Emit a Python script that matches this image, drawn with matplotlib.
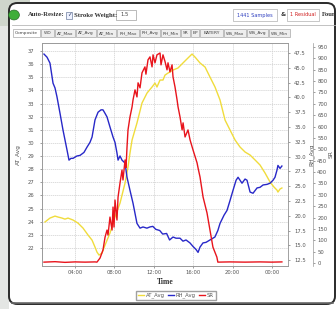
import numpy as np
import matplotlib.pyplot as plt
from matplotlib.patches import FancyBboxPatch, Rectangle, Circle

# Figure size in pixels (screenshot of the logger viewer)
W, H = 336, 309

# --- data (hours since midnight, >24 = next day) ---
at_hours = [0.95, 1.46, 1.97, 2.27, 2.68, 2.98, 3.29, 3.8, 4.3, 4.81, 5.32, 5.73,
            6.03, 6.23, 6.44, 6.74, 7.05, 7.55, 8.06, 8.57, 9.08, 9.38, 9.58, 9.79,
            10.29, 10.8, 11.31, 11.82, 12.12, 12.32, 12.63, 12.93, 13.14, 13.44,
            13.95, 14.46, 14.96, 15.47, 15.88, 16.18, 16.69, 17.2, 17.7, 18.21,
            18.72, 19.23, 19.74, 20.25, 20.75, 21.26, 21.77, 22.28, 22.78, 23.29,
            23.8, 24.2, 24.5, 24.6, 24.81, 25.0]
at_avg = [23.98, 24.28, 24.43, 24.36, 24.28, 24.2, 24.28, 24.13, 23.9, 23.52, 22.99, 22.6,
          22.07, 21.69, 21.46, 21.62, 22.22, 23.14, 24.36, 25.42, 26.95, 28.17, 29.23, 30.22,
          31.52, 33.04, 33.8, 34.26, 34.56, 34.26, 34.79, 34.79, 35.17, 35.32,
          35.55, 35.71, 36.09, 36.47, 36.77, 36.54, 36.09, 35.78, 35.02, 34.26,
          33.27, 31.74, 30.98, 30.22, 29.69, 29.31, 29.08, 28.7, 28.32, 27.71,
          27.02, 26.64, 26.41, 26.26, 26.49, 26.57]

rh_hours = [0.85, 1.16, 1.46, 1.77, 1.97, 2.17, 2.48, 2.78, 3.19, 3.39, 3.59, 3.8,
            4.2, 4.51, 4.91, 5.22, 5.52, 5.73, 6.03, 6.34, 6.64, 6.84, 7.05, 7.25,
            7.55, 7.86, 8.06, 8.26, 8.37, 8.57, 8.77, 9.08, 9.28, 9.58, 9.89, 10.09,
            10.29, 10.6, 10.9, 11.3, 11.6, 11.9, 12.2, 12.6, 12.9, 13.3, 13.6, 13.95,
            14.25, 14.66, 14.96, 15.27, 15.67, 15.98, 16.28, 16.49, 16.69, 16.99, 17.3,
            17.7, 18.2, 18.5, 18.72, 19.13, 19.43, 19.74, 20.04, 20.35, 20.55, 20.75,
            20.95, 21.26, 21.46, 21.77, 22.07, 22.48, 22.78, 23.09, 23.49, 23.8, 24.1,
            24.3, 24.5, 24.6, 24.81, 25.0]
rh_avg = [47.33, 46.8, 45.8, 42.4, 41.6, 40.1, 37.3, 34.5, 31.1, 29.4, 29.7, 29.7,
          30.1, 30.2, 30.7, 31.6, 32.4, 33.3, 36.2, 37.5, 37.9, 37.9, 37.3, 36.7,
          35.0, 33.3, 32.4, 30.6, 29.4, 30.1, 29.4, 28.9, 26.5, 24.3, 22.1, 20.4,
          18.7, 17.9, 18.1, 17.9, 18.1, 18.2, 17.7, 17.5, 16.9, 17.0, 15.9, 16.4,
          16.2, 16.2, 15.7, 15.9, 15.4, 14.8, 14.3, 13.8, 14.7, 15.4, 15.5,
          15.9, 16.4, 17.5, 18.7, 20.1, 20.9, 22.6, 24.3, 26.0, 26.5, 26.0,
          25.5, 26.2, 26.0, 24.0, 23.8, 24.7, 24.8, 25.2, 25.3, 25.5, 26.0,
          26.5, 27.7, 28.5, 28.0, 28.4]

sr_hours = [0.85, 1.97, 2.98, 4.0, 5.02, 6.03, 6.23, 6.54, 6.84, 7.05, 7.25, 7.35,
            7.55, 7.76, 7.86, 7.96, 8.06, 8.26, 8.37, 8.57, 8.77, 8.87, 9.08, 9.18,
            9.28, 9.38, 9.58, 9.79, 9.89, 10.09, 10.29, 10.4, 10.6, 10.8, 11.1, 11.2,
            11.41, 11.61, 11.82, 11.92, 12.12, 12.32, 12.63, 12.73, 12.93, 13.14,
            13.34, 13.44, 13.64, 13.85, 13.95, 14.15, 14.36, 14.46, 14.66, 14.87,
            14.97, 15.17, 15.47, 15.68, 15.98, 16.39, 16.49, 16.69, 17.0, 17.4, 17.7,
            18.0, 18.4, 18.5, 19.7, 21.26, 22.78, 24.0, 25.0]
sr = [4, 6, 3, 5, 4, 5, 4, 22, 57, 114, 145, 123,
      202, 145, 246, 158, 277, 189, 290, 352, 409, 365, 453, 420,
      510, 585, 642, 686, 717, 761, 730, 792, 770, 836, 862, 830,
      893, 906, 862, 915, 880, 915, 923, 871, 915, 885,
      849, 880, 840, 871, 818, 774, 717, 686, 642, 585,
      616, 554, 585, 541, 497, 440, 418, 378, 290, 220, 145,
      70, 26, 4, 5, 4, 5, 4, 5]

time_ticks = [4, 8, 12, 16, 20, 24]
time_labels = ['04:00', '08:00', '12:00', '16:00', '20:00', '00:00']
at_ticks = list(range(22, 38))
rh_ticks = [12.5 + 2.5 * i for i in range(15)]
sr_ticks = list(range(0, 1000, 50))
tabs = ['Composite', 'WD', 'AT_Max', 'AT_Avg', 'AT_Min', 'RH_Max', 'RH_Avg',
        'RH_Min', 'SR', 'BP', 'BATERY', 'WS_Max', 'WS_Avg', 'WS_Min']
tab_edges = [13, 41, 55, 76, 97, 117, 140, 161, 181, 191, 200, 224, 247, 269, 291]


def fx(x):
    return x / W


def fy(y):
    return 1 - y / H


fig = plt.figure(figsize=(W / 100, H / 100), dpi=100)
fig.patch.set_facecolor('white')
BG = -10  # chrome goes below the axes

# window chrome behind the panel
fig.add_artist(Rectangle((0, 0), fx(9), 1, transform=fig.transFigure,
                         facecolor='#e4e6e4', edgecolor='none', zorder=BG))
fig.add_artist(Rectangle((0, fy(26)), fx(30), fy(0) - fy(26), transform=fig.transFigure,
                         facecolor='#cfd6cc', edgecolor='none', zorder=BG))
fig.add_artist(FancyBboxPatch((fx(9), fy(304)), fx(335) - fx(9), fy(3) - fy(304),
                              boxstyle='round,pad=0,rounding_size=0.025',
                              transform=fig.transFigure, facecolor='white',
                              edgecolor='#2a2a2a', linewidth=1.4, zorder=BG))
fig.add_artist(plt.Line2D([fx(12), fx(333)], [fy(302.5), fy(302.5)],
                          transform=fig.transFigure, color='#6a6a6a', lw=1.2, zorder=BG))

# toolbar
fig.add_artist(Circle((fx(14), fy(15)), 0.016, transform=fig.transFigure,
                      facecolor='#3fae3a', edgecolor='#2a6a2a', lw=0.5))
serif = ['Liberation Serif', 'DejaVu Serif']
fig.text(fx(28), fy(15), 'Auto-Resize:', fontsize=4.8, weight='bold', family=serif,
         va='center', color='#333333')
fig.add_artist(Rectangle((fx(66), fy(18.5)), fx(6), fy(11.5) - fy(18.5),
                         transform=fig.transFigure, facecolor='#eef2ff',
                         edgecolor='#7080a0', lw=0.5))
fig.text(fx(69), fy(15), '✓', fontsize=4, ha='center', va='center', color='#203060')
fig.text(fx(74), fy(15), 'Stroke Weight:', fontsize=4.8, weight='bold', family=serif,
         va='center', color='#333333')
fig.add_artist(Rectangle((fx(116), fy(20)), fx(20), fy(10) - fy(20),
                         transform=fig.transFigure, facecolor='white',
                         edgecolor='#a0a0a0', lw=0.5))
fig.text(fx(120), fy(15), '1.5', fontsize=3.8, va='center', color='#444444')
fig.add_artist(Rectangle((fx(233), fy(21)), fx(44), fy(9) - fy(21),
                         transform=fig.transFigure, facecolor='white',
                         edgecolor='#b0b0b0', lw=0.5))
fig.text(fx(255), fy(15), '1441 Samples', fontsize=3.6, ha='center', va='center',
         color='#3040c0')
fig.text(fx(283), fy(15), '&', fontsize=4.2, weight='bold', ha='center', va='center',
         color='#333333')
fig.add_artist(Rectangle((fx(287), fy(21)), fx(32), fy(9) - fy(21),
                         transform=fig.transFigure, facecolor='white',
                         edgecolor='#b0b0b0', lw=0.5))
fig.text(fx(303), fy(15), '1 Residual', fontsize=3.6, ha='center', va='center',
         color='#d02020')
fig.text(fx(322), fy(15), 'Foun', fontsize=4.8, weight='bold', family=serif,
         va='center', color='#333333')
fig.add_artist(plt.Line2D([fx(12), fx(335)], [fy(25), fy(25)], transform=fig.transFigure,
                          color='#b8b8b8', lw=0.6))

# tab strip
for i, name in enumerate(tabs):
    x0, x1 = tab_edges[i], tab_edges[i + 1] - 1
    fig.add_artist(Rectangle((fx(x0), fy(37)), fx(x1) - fx(x0), fy(29) - fy(37),
                             transform=fig.transFigure,
                             facecolor='white' if i == 0 else '#eeeeee',
                             edgecolor='#a8a8a8', lw=0.5))
    fig.text(fx((x0 + x1) / 2), fy(33), name, fontsize=3.2, ha='center', va='center',
             color='#444444')

# --- the chart ---
ax = fig.add_axes([fx(42), fy(266), fx(288) - fx(42), fy(43) - fy(266)])
ax.set_xlim(0.65, 25.62)
ax.set_ylim(20.63, 37.61)
ax.set_xticks(time_ticks)
ax.set_xticklabels(time_labels)
ax.set_yticks(at_ticks)
ax.grid(True, color='#cfcfcf', linestyle=(0, (2, 1)), linewidth=0.5)
ax.set_axisbelow(True)
l1, = ax.plot(at_hours, at_avg, color='#f0dc3c', lw=1.0, label='AT_Avg')
ax.set_xlabel('Time', fontsize=5.5, family=serif, weight='bold', color='#333333', labelpad=2)
ax.set_ylabel('AT_Avg', fontsize=4.2, color='#555555', labelpad=5)

ax2 = ax.twinx()
ax2.set_ylim(11.5, 49.2)
ax2.set_yticks(rh_ticks)
ax2.set_yticklabels([f'{v:.1f}' for v in rh_ticks])
l2, = ax2.plot(rh_hours, rh_avg, color='#2828c8', lw=1.0, label='RH_Avg')
ax2.set_ylabel('RH_Avg', fontsize=4.2, color='#555555', labelpad=2)

ax3 = ax.twinx()
ax3.spines['right'].set_position(('axes', (313 - 42) / 246))
ax3.set_ylim(-13, 967)
ax3.set_yticks(sr_ticks)
l3, = ax3.plot(sr_hours, sr, color='#e8141c', lw=1.0, label='SR')
ax3.set_ylabel('SR', fontsize=4.2, color='#555555', labelpad=1)

for a in (ax, ax2, ax3):
    a.tick_params(labelsize=3.8, length=1.5, width=0.4, pad=1.5,
                  colors='#555555')
    for s in a.spines.values():
        s.set_color('#9a9a9a')
        s.set_linewidth(0.5)
ax.tick_params(axis='y', pad=4)
ax2.tick_params(axis='y', pad=3)

fig.legend(handles=[l1, l2, l3], loc='center', bbox_to_anchor=(fx(176), fy(295.5)),
           ncol=3, fontsize=3.8, frameon=True, fancybox=False, edgecolor='#888888',
           handlelength=1.2, handletextpad=0.3, columnspacing=0.6, borderpad=0.3,
           labelcolor='#555555')

fig.savefig('out.png', dpi=100)
